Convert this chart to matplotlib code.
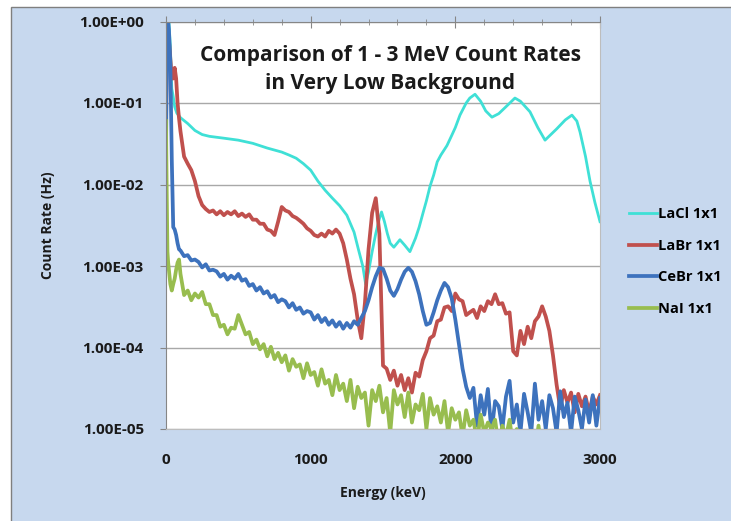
import numpy as np
import matplotlib.pyplot as plt
from matplotlib.patches import Rectangle
from matplotlib.ticker import FixedLocator, MultipleLocator

plt.rcParams['font.family'] = ['Open Sans', 'DejaVu Sans']

# channel energies (keV): fine steps over the low-energy spikes, then 25 keV bins
energy = [0, 5, 10, 15, 20, 30, 40, 50, 60, 70, 80, 90] + list(range(100, 3001, 25))

labr = [0.05, 0.4, 0.7, 0.5, 0.6, 0.35, 0.2, 0.2, 0.27, 0.2, 0.1, 0.065,
        # 100 - 675
        0.045, 0.022, 0.018, 0.015, 0.011, 0.0072, 0.0056, 0.005, 0.0046, 0.0048,
        0.0043, 0.0047, 0.0042, 0.0046, 0.0043, 0.0047, 0.0041, 0.0044, 0.0040, 0.0043,
        0.0037, 0.0037, 0.0033, 0.0033,
        # 700 - 1275
        0.0028, 0.0027, 0.0024, 0.0035, 0.0053, 0.0048, 0.0046, 0.0041, 0.0039, 0.0036,
        0.0033, 0.0029, 0.0027, 0.0024, 0.0023, 0.0025, 0.0023, 0.0027, 0.0025, 0.0028,
        0.0025, 0.0019, 0.0012, 0.0007,
        # 1300 - 1875
        0.00045, 0.00022, 0.00013, 0.00035, 0.0016, 0.0045, 0.0068, 0.0025, 6e-5, 5.5e-5,
        4.0e-5, 5.2e-5, 3.4e-5, 4.6e-5, 3.0e-5, 4.2e-5, 2.8e-5, 4.9e-5, 4.4e-5, 7e-5,
        9e-5, 1.3e-4, 1.4e-4, 2.1e-4,
        # 1900 - 2475
        2.2e-4, 3.1e-4, 3.2e-4, 2.8e-4, 4.6e-4, 3.9e-4, 3.7e-4, 2.5e-4, 2.7e-4, 2.9e-4,
        2.3e-4, 3.2e-4, 2.8e-4, 3.7e-4, 3.4e-4, 4.5e-4, 3.4e-4, 3.5e-4, 2.6e-4, 2.7e-4,
        9e-5, 8e-5, 1.6e-4, 1.1e-4,
        # 2500 - 3000
        1.8e-4, 1.3e-4, 2.1e-4, 2.4e-4, 3.2e-4, 2.4e-4, 1.6e-4, 8e-5, 3.5e-5, 1.8e-5,
        3.0e-5, 2.1e-5, 2.8e-5, 1.6e-5, 2.7e-5, 1.9e-5, 2.5e-5, 1.6e-5, 2.5e-5, 2.0e-5,
        2.6e-5]

cebr = [0.02, 0.3, 0.9, 1.0, 0.8, 0.3, 0.02, 0.003, 0.0028, 0.0024, 0.0019, 0.0016,
        # 100 - 675
        1.55e-3, 1.32e-3, 1.36e-3, 1.17e-3, 1.2e-3, 1.12e-3, 0.96e-3, 1.05e-3, 0.88e-3, 0.9e-3,
        0.86e-3, 0.74e-3, 0.8e-3, 0.68e-3, 0.76e-3, 0.7e-3, 0.8e-3, 0.66e-3, 0.69e-3, 0.57e-3,
        0.6e-3, 0.5e-3, 0.55e-3, 0.46e-3,
        # 700 - 1275
        0.49e-3, 0.41e-3, 0.44e-3, 0.36e-3, 0.39e-3, 0.37e-3, 0.31e-3, 0.35e-3, 0.29e-3, 0.31e-3,
        0.26e-3, 0.28e-3, 0.27e-3, 0.22e-3, 0.25e-3, 0.205e-3, 0.23e-3, 0.19e-3, 0.215e-3, 0.18e-3,
        0.205e-3, 0.17e-3, 0.2e-3, 0.175e-3,
        # 1300 - 1875
        0.21e-3, 0.19e-3, 0.23e-3, 0.28e-3, 0.38e-3, 0.55e-3, 0.75e-3, 0.95e-3, 0.92e-3, 0.7e-3,
        0.5e-3, 0.43e-3, 0.52e-3, 0.68e-3, 0.85e-3, 0.95e-3, 0.85e-3, 0.65e-3, 0.45e-3, 0.28e-3,
        0.19e-3, 0.2e-3, 0.27e-3, 0.38e-3,
        # 1900 - 2475
        0.5e-3, 0.62e-3, 0.55e-3, 0.4e-3, 0.22e-3, 0.11e-3, 5.5e-5, 3.3e-5, 2.4e-5, 3.2e-5,
        1.1e-5, 2.6e-5, 1.5e-5, 3.1e-5, 0.9e-5, 2.2e-5, 1.9e-5, 1.0e-5, 2.5e-5, 3.9e-5,
        1.2e-5, 2.0e-5, 0.9e-5, 2.7e-5,
        # 2500 - 3000
        1.6e-5, 0.9e-5, 3.6e-5, 1.3e-5, 2.2e-5, 1.0e-5, 2.6e-5, 1.8e-5, 0.9e-5, 2.9e-5,
        1.4e-5, 2.1e-5, 0.9e-5, 2.5e-5, 1.7e-5, 1.0e-5, 2.3e-5, 1.2e-5, 2.6e-5, 1.1e-5,
        2.4e-5]

nai = [0.06, 0.008, 0.0015, 0.0011, 0.0009, 0.0006, 0.0005, 0.0006, 0.0007, 0.0009, 0.0011, 0.0012,
       # 100 - 675
       8e-4, 4.4e-4, 5.0e-4, 3.8e-4, 4.6e-4, 4.1e-4, 4.8e-4, 3.4e-4, 3.4e-4, 2.5e-4,
       2.5e-4, 1.8e-4, 1.9e-4, 1.45e-4, 1.75e-4, 1.7e-4, 2.5e-4, 1.9e-4, 1.45e-4, 1.55e-4,
       1.1e-4, 1.25e-4, 0.95e-4, 1.1e-4,
       # 700 - 1275
       0.78e-4, 1.02e-4, 0.72e-4, 0.86e-4, 0.66e-4, 0.8e-4, 0.52e-4, 0.72e-4, 0.58e-4, 0.62e-4,
       0.42e-4, 0.64e-4, 0.46e-4, 0.5e-4, 0.34e-4, 0.54e-4, 0.36e-4, 0.4e-4, 0.26e-4, 0.46e-4,
       0.3e-4, 0.36e-4, 0.22e-4, 0.4e-4,
       # 1300 - 1875
       0.18e-4, 0.33e-4, 0.24e-4, 0.28e-4, 0.11e-4, 0.3e-4, 0.22e-4, 0.34e-4, 0.16e-4, 0.24e-4,
       0.09e-4, 0.3e-4, 0.2e-4, 0.26e-4, 0.14e-4, 0.28e-4, 0.12e-4, 0.2e-4, 0.17e-4, 0.27e-4,
       0.1e-4, 0.24e-4, 0.15e-4, 0.19e-4,
       # 1900 - 2475
       0.12e-4, 0.22e-4, 0.09e-4, 0.18e-4, 0.13e-4, 0.16e-4, 0.08e-4, 0.17e-4, 0.11e-4, 0.13e-4,
       0.07e-4, 0.15e-4, 0.09e-4, 0.12e-4, 0.1e-4, 0.13e-4, 0.06e-4, 0.11e-4, 0.08e-4, 0.13e-4,
       0.06e-4, 0.1e-4, 0.07e-4, 0.09e-4,
       # 2500 - 3000
       0.055e-4, 0.07e-4, 0.05e-4, 0.11e-4, 0.05e-4, 0.065e-4, 0.045e-4, 0.06e-4, 0.045e-4, 0.055e-4,
       0.04e-4, 0.055e-4, 0.04e-4, 0.05e-4, 0.04e-4, 0.05e-4, 0.035e-4, 0.045e-4, 0.035e-4, 0.045e-4,
       0.035e-4]

# LaCl is smooth, so it gets its own coarser energy list
lacl_energy = [0, 10, 20, 30, 40, 50, 60, 75, 100, 150, 200, 250, 300, 400, 500, 600, 700,
               800, 850, 900, 950, 1000, 1050, 1100, 1150, 1200, 1250, 1272, 1300, 1330, 1360,
               1380, 1400, 1425, 1450, 1475, 1490, 1510, 1530, 1550, 1575, 1617, 1650, 1686,
               1725, 1750, 1777, 1800, 1825, 1850, 1875, 1900, 1942, 1975, 2000, 2032, 2075,
               2100, 2136, 2175, 2210, 2253, 2300, 2350, 2412, 2450, 2516, 2570, 2620, 2700,
               2760, 2806, 2840, 2862, 2900, 2931, 2965, 3000]
lacl = [0.3, 0.9, 1.0, 0.5, 0.15, 0.12, 0.09, 0.075, 0.066, 0.056, 0.046, 0.041, 0.039,
        0.037, 0.035, 0.032, 0.028, 0.025, 0.023, 0.021, 0.018, 0.015, 0.011, 0.0085, 0.0068,
        0.0055, 0.0042, 0.0034, 0.0026, 0.0016, 0.001, 0.0006, 0.00085, 0.0015, 0.0025,
        0.0038, 0.0046, 0.0035, 0.0025, 0.0019, 0.0017, 0.0021, 0.0018, 0.0015, 0.0022,
        0.003, 0.0045, 0.0063, 0.0095, 0.013, 0.019, 0.023, 0.03, 0.04, 0.05, 0.071, 0.1,
        0.115, 0.128, 0.105, 0.08, 0.067, 0.074, 0.09, 0.115, 0.105, 0.078, 0.05, 0.035,
        0.048, 0.062, 0.071, 0.06, 0.044, 0.022, 0.011, 0.006, 0.0035]

series = [('LaCl 1x1', lacl_energy, lacl, '#3fe0d6', 2.0),
          ('LaBr 1x1', energy, labr, '#c0504d', 2.7),
          ('CeBr 1x1', energy, cebr, '#3d72bd', 2.7),
          ('NaI 1x1', energy, nai, '#98bd4f', 2.7)]

fig = plt.figure(figsize=(7.31, 5.21), dpi=100, facecolor='white')
# chart area panel, kept behind the axes
fig.patches.append(Rectangle((11 / 731, -0.01), 1.0, 1 - 7 / 521 + 0.01, transform=fig.transFigure,
                             facecolor='#c7d8ee', edgecolor='#7f7f7f', linewidth=1.0, zorder=-5))

ax = fig.add_axes([166 / 731, 1 - 429 / 521, 434 / 731, (429 - 21.5) / 521])
ax.set_facecolor('white')

for name, x, y, c, lw in series:
    ax.plot(x, y, color=c, linewidth=lw, label=name)

ax.set_yscale('log')
ax.set_xlim(0, 3000)
ax.set_ylim(1e-5, 1)
ax.yaxis.set_major_locator(FixedLocator([1e-5, 1e-4, 1e-3, 1e-2, 1e-1, 1]))
ax.yaxis.set_minor_locator(FixedLocator([]))
ax.set_yticklabels(['1.00E-05', '1.00E-04', '1.00E-03', '1.00E-02', '1.00E-01', '1.00E+00'])
ax.grid(axis='y', color='#a8a8a8', linewidth=1.0)
ax.set_axisbelow(True)

ax.xaxis.set_major_locator(MultipleLocator(1000))
ax.xaxis.set_minor_locator(MultipleLocator(200))
ax.tick_params(axis='x', which='both', top=True, bottom=False, labelbottom=True, labeltop=False,
               direction='inout', color='#868686')
ax.tick_params(axis='x', which='major', length=8, pad=13, labelsize=11)
ax.tick_params(axis='x', which='minor', length=5)
ax.tick_params(axis='y', which='major', length=4, color='#868686', labelsize=11, pad=12)
for lab in ax.get_xticklabels() + ax.get_yticklabels():
    lab.set_fontweight('bold')
    lab.set_color('#1a1a1a')

for side in ['bottom', 'right']:
    ax.spines[side].set_color('#bdbdbd')
for side in ['left', 'top']:
    ax.spines[side].set_color('#868686')

ax.set_xlabel('Energy (keV)', fontsize=10, fontweight='bold', color='#1a1a1a', labelpad=14)
ax.set_ylabel('Count Rate (Hz)', fontsize=10, fontweight='bold', color='#1a1a1a', labelpad=17)

fig.text(390 / 731, 1 - 55 / 521, 'Comparison of 1 - 3 MeV Count Rates', ha='center', va='center',
         fontsize=15, fontweight='bold', color='#1a1a1a')
fig.text(390 / 731, 1 - 84 / 521, 'in Very Low Background', ha='center', va='center',
         fontsize=15, fontweight='bold', color='#1a1a1a')

fig.legend(loc='upper left', bbox_to_anchor=(616 / 731, 1 - 194 / 521), frameon=False,
           handlelength=1.9, handletextpad=0.1, labelspacing=1.2,
           prop={'size': 10.5, 'weight': 'bold'})

fig.savefig('out.png', dpi=100, facecolor=fig.get_facecolor())
